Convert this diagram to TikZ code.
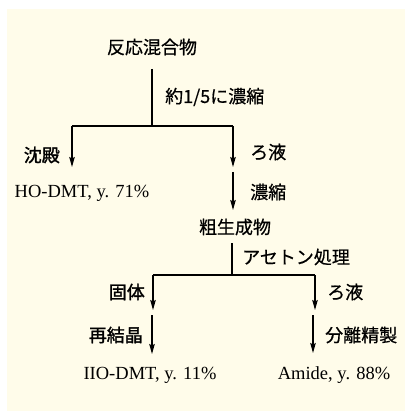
\documentclass[tikz,border=0pt]{standalone}
\usepackage{fontspec}
\setmainfont{Liberation Serif}
\newfontfamily\jpfont[FakeBold=0.6]{Noto Sans CJK JP}
\newfontfamily\jpbfont[FakeBold=1.6]{Noto Sans CJK JP}
\usetikzlibrary{arrows.meta}
\definecolor{bgc}{RGB}{255,252,234}
\tikzset{
  jp/.style={font=\jpfont\fontsize{18}{20}\selectfont, inner sep=0pt},
  jpb/.style={font=\jpbfont\fontsize{18}{20}\selectfont, inner sep=0pt},
  lat/.style={font=\fontsize{18.5}{20}\selectfont, inner sep=0pt},
  ln/.style={line width=1.1pt},
  arr/.style={line width=1.1pt, -{Stealth[length=10pt,width=5.5pt,inset=1.5pt]}}
}
\begin{document}
\begin{tikzpicture}[x=1pt,y=-1pt]
\useasboundingbox (0,0) rectangle (405,411);
\fill[bgc] (7,9) rectangle (405,411);

% nodes
\node[jp] (mix) at (152,47) {反応混合物};
\node[lat] (ho1) at (82,193) {HO-DMT, y. 71\%};
\node[jp] (crude) at (235,227) {粗生成物};
\node[lat] (ho2) at (150,375) {IIO-DMT, y. 11\%};
\node[lat] (amide) at (334,375) {Amide, y. 88\%};

% labels
\node[jp, anchor=west] (l1) at (165,97) {約1/5に濃縮};
\node[jpb, anchor=east] (l2) at (60,155) {沈殿};
\node[jp, anchor=west] (l3) at (250,152) {ろ液};
\node[jp, anchor=west] (l4) at (250,192) {濃縮};
\node[jp, anchor=west] (l5) at (242,257) {アセトン処理};
\node[jpb, anchor=east] (l6) at (145,292) {固体};
\node[jp, anchor=west] (l7) at (327,292) {ろ液};
\node[jpb, anchor=east] (l8) at (143,335) {再結晶};
\node[jp, anchor=west] (l9) at (325,335) {分離精製};

% coordinates
\coordinate (t1) at (152,69);
\coordinate (j1) at (152,126);
\coordinate (j1l) at (72,126);
\coordinate (j1r) at (233,126);
\coordinate (e1l) at (72,167);
\coordinate (e1r) at (233,167);
\coordinate (s2) at (233,172);
\coordinate (e2) at (233,210);
\coordinate (t3) at (232,243);
\coordinate (j3) at (232,275);
\coordinate (j3l) at (153,275);
\coordinate (j3r) at (315,275);
\coordinate (e3l) at (153,310);
\coordinate (e3r) at (315,310);
\coordinate (s4l) at (152,315);
\coordinate (e4l) at (152,354);
\coordinate (s4r) at (313,315);
\coordinate (e4r) at (313,353);

% connectors
\draw[ln] (t1) -- (j1);
\draw[ln] (j1l) -- (j1r);
\draw[arr] (j1l) -- (e1l);
\draw[arr] (j1r) -- (e1r);
\draw[arr] (s2) -- (e2);
\draw[ln] (t3) -- (j3);
\draw[ln] (j3l) -- (j3r);
\draw[arr] (j3l) -- (e3l);
\draw[arr] (j3r) -- (e3r);
\draw[arr] (s4l) -- (e4l);
\draw[arr] (s4r) -- (e4r);
\end{tikzpicture}
\end{document}
